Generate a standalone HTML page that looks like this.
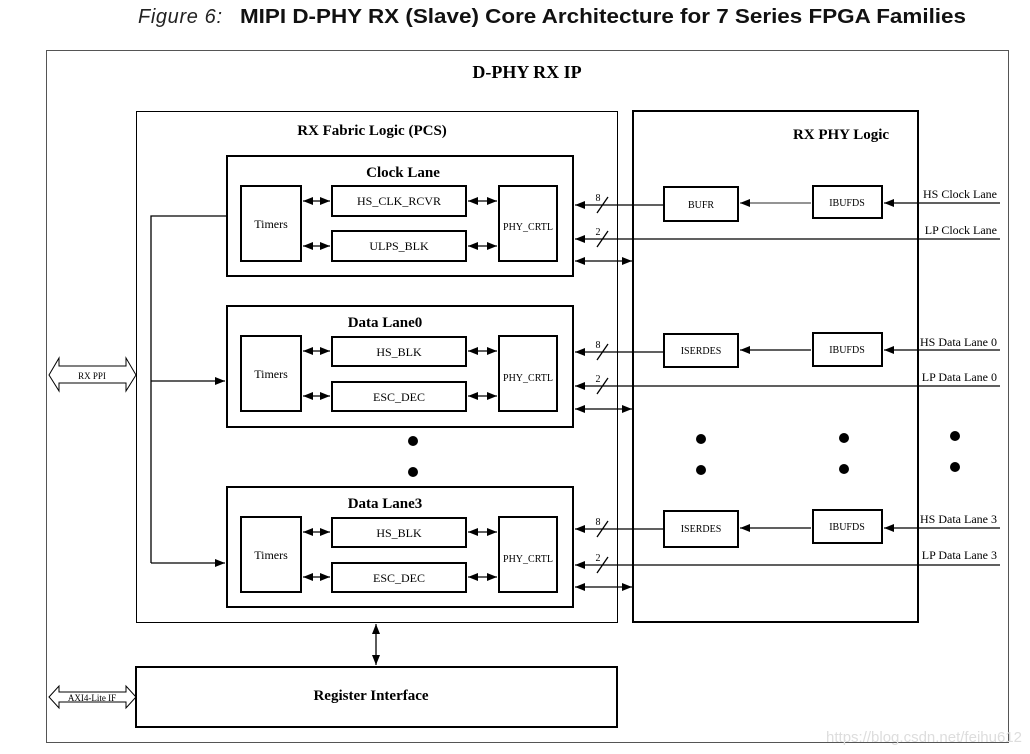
<!DOCTYPE html>
<html><head><meta charset="utf-8"><style>
html,body{margin:0;padding:0;background:#fff;width:1030px;height:754px;overflow:hidden}
svg{display:block}
.s{font-family:"Liberation Serif",serif}
</style></head><body>
<svg width="1030" height="754" viewBox="0 0 1030 754" xmlns="http://www.w3.org/2000/svg">
<defs>
<marker id="a" markerWidth="10" markerHeight="8" refX="10" refY="4" orient="auto" markerUnits="userSpaceOnUse"><path d="M0,0L10,4L0,8z" fill="#000"/></marker>
<marker id="b" markerWidth="10" markerHeight="8" refX="0" refY="4" orient="auto" markerUnits="userSpaceOnUse"><path d="M10,0L0,4L10,8z" fill="#000"/></marker>
</defs>
<text x="138" y="23" font-family="Liberation Sans,sans-serif" font-size="20" font-style="italic" fill="#222" textLength="84">Figure 6:</text>
<text x="240" y="23" font-family="Liberation Sans,sans-serif" font-size="20" font-weight="bold" fill="#111" textLength="726" lengthAdjust="spacingAndGlyphs">MIPI D-PHY RX (Slave) Core Architecture for 7 Series FPGA Families</text>
<rect x="46.5" y="50.5" width="962" height="692" fill="none" stroke="#555" stroke-width="1"/>
<text class="s" x="527" y="78" font-size="18" font-weight="bold" text-anchor="middle">D-PHY RX IP</text>
<rect x="136.5" y="111.5" width="481" height="511" fill="none" stroke="#000" stroke-width="1"/>
<text class="s" x="372" y="135" font-size="15" font-weight="bold" text-anchor="middle">RX Fabric Logic (PCS)</text>
<rect x="633" y="111" width="285" height="511" fill="none" stroke="#000" stroke-width="2"/>
<text class="s" x="841" y="139" font-size="15" font-weight="bold" text-anchor="middle">RX PHY Logic</text>
<g class="s" font-size="12" text-anchor="middle">
<rect x="227" y="156" width="346" height="120" fill="none" stroke="#000" stroke-width="2"/>
<text x="403" y="177" font-size="15" font-weight="bold">Clock Lane</text>
<rect x="241" y="186" width="60" height="75" fill="none" stroke="#000" stroke-width="2"/><text x="271" y="228">Timers</text>
<rect x="332" y="186" width="134" height="30" fill="none" stroke="#000" stroke-width="2"/><text x="399" y="205">HS_CLK_RCVR</text>
<rect x="332" y="231" width="134" height="30" fill="none" stroke="#000" stroke-width="2"/><text x="399" y="250">ULPS_BLK</text>
<rect x="499" y="186" width="58" height="75" fill="none" stroke="#000" stroke-width="2"/><text x="528" y="230" font-size="10">PHY_CRTL</text>

<rect x="227" y="306" width="346" height="121" fill="none" stroke="#000" stroke-width="2"/>
<text x="385" y="327" font-size="15" font-weight="bold">Data Lane0</text>
<rect x="241" y="336" width="60" height="75" fill="none" stroke="#000" stroke-width="2"/><text x="271" y="378">Timers</text>
<rect x="332" y="337" width="134" height="29" fill="none" stroke="#000" stroke-width="2"/><text x="399" y="356">HS_BLK</text>
<rect x="332" y="382" width="134" height="29" fill="none" stroke="#000" stroke-width="2"/><text x="399" y="401">ESC_DEC</text>
<rect x="499" y="336" width="58" height="75" fill="none" stroke="#000" stroke-width="2"/><text x="528" y="381" font-size="10">PHY_CRTL</text>

<rect x="227" y="487" width="346" height="120" fill="none" stroke="#000" stroke-width="2"/>
<text x="385" y="508" font-size="15" font-weight="bold">Data Lane3</text>
<rect x="241" y="517" width="60" height="75" fill="none" stroke="#000" stroke-width="2"/><text x="271" y="559">Timers</text>
<rect x="332" y="518" width="134" height="29" fill="none" stroke="#000" stroke-width="2"/><text x="399" y="537">HS_BLK</text>
<rect x="332" y="563" width="134" height="29" fill="none" stroke="#000" stroke-width="2"/><text x="399" y="582">ESC_DEC</text>
<rect x="499" y="517" width="58" height="75" fill="none" stroke="#000" stroke-width="2"/><text x="528" y="562" font-size="10">PHY_CRTL</text>

<g font-size="10">
<rect x="664" y="187" width="74" height="34" fill="none" stroke="#000" stroke-width="2"/><text x="701" y="208">BUFR</text>
<rect x="813" y="186" width="69" height="32" fill="none" stroke="#000" stroke-width="2"/><text x="847" y="206">IBUFDS</text>
<rect x="664" y="334" width="74" height="33" fill="none" stroke="#000" stroke-width="2"/><text x="701" y="354">ISERDES</text>
<rect x="813" y="333" width="69" height="33" fill="none" stroke="#000" stroke-width="2"/><text x="847" y="353">IBUFDS</text>
<rect x="664" y="511" width="74" height="36" fill="none" stroke="#000" stroke-width="2"/><text x="701" y="532">ISERDES</text>
<rect x="813" y="510" width="69" height="33" fill="none" stroke="#000" stroke-width="2"/><text x="847" y="530">IBUFDS</text>
</g>
</g>

<g stroke="#000" stroke-width="1.3" fill="none">
<g marker-start="url(#b)" marker-end="url(#a)">
<path d="M303,201H330"/><path d="M468,201H497"/><path d="M303,246H330"/><path d="M468,246H497"/>
<path d="M303,351H330"/><path d="M468,351H497"/><path d="M303,396H330"/><path d="M468,396H497"/>
<path d="M303,532H330"/><path d="M468,532H497"/><path d="M303,577H330"/><path d="M468,577H497"/>
<path d="M575,261H632"/><path d="M575,409H632"/><path d="M575,587H632"/>
<path d="M376,624V665"/>
</g>
<path d="M1000,203H884" marker-end="url(#a)"/>
<path d="M811,203H740" stroke="#555" marker-end="url(#a)"/>
<path d="M664,205H575" marker-end="url(#a)"/>
<path d="M1000,239H575" marker-end="url(#a)"/>
<path d="M1000,350H884" marker-end="url(#a)"/>
<path d="M811,350H740" marker-end="url(#a)"/>
<path d="M664,352H575" marker-end="url(#a)"/>
<path d="M1000,386H575" marker-end="url(#a)"/>
<path d="M1000,528H884" marker-end="url(#a)"/>
<path d="M811,528H740" marker-end="url(#a)"/>
<path d="M664,529H575" marker-end="url(#a)"/>
<path d="M1000,565H575" marker-end="url(#a)"/>
<path d="M597,213L608,197M597,247L608,231M597,360L608,344M597,394L608,378M597,537L608,521M597,573L608,557"/>
<path d="M227,216H151V563"/>
<path d="M151,381H225" marker-end="url(#a)"/>
<path d="M151,563H225" marker-end="url(#a)"/>
<path d="M49,375L59,358V366H126V358L136,375L126,391V383H59V391Z" stroke-width="1"/>
<path d="M49,697L59,686V692H126V686L136,697L126,708V702H59V708Z" stroke-width="1"/>
</g>
<g class="s" font-size="10" text-anchor="middle">
<text x="598" y="201">8</text><text x="598" y="235">2</text>
<text x="598" y="348">8</text><text x="598" y="382">2</text>
<text x="598" y="525">8</text><text x="598" y="561">2</text>
<text x="92" y="379" font-size="9">RX PPI</text>
<text x="92" y="701" font-size="9">AXI4-Lite IF</text>
</g>
<g class="s" font-size="12" text-anchor="end">
<text x="997" y="198">HS Clock Lane</text>
<text x="997" y="234">LP Clock Lane</text>
<text x="997" y="346">HS Data Lane 0</text>
<text x="997" y="381">LP Data Lane 0</text>
<text x="997" y="523">HS Data Lane 3</text>
<text x="997" y="559">LP Data Lane 3</text>
</g>
<rect x="136" y="667" width="481" height="60" fill="none" stroke="#000" stroke-width="2"/>
<text class="s" x="371" y="700" font-size="15" font-weight="bold" text-anchor="middle">Register Interface</text>
<g fill="#000">
<circle cx="413" cy="441" r="5"/><circle cx="413" cy="472" r="5"/>
<circle cx="701" cy="439" r="5"/><circle cx="701" cy="470" r="5"/>
<circle cx="844" cy="438" r="5"/><circle cx="844" cy="469" r="5"/>
<circle cx="955" cy="436" r="5"/><circle cx="955" cy="467" r="5"/>
</g>
<text x="1022" y="742" font-family="Liberation Sans,sans-serif" font-size="15" fill="#ddd" text-anchor="end">https://blog.csdn.net/feihu612</text>
</svg>
</body></html>
